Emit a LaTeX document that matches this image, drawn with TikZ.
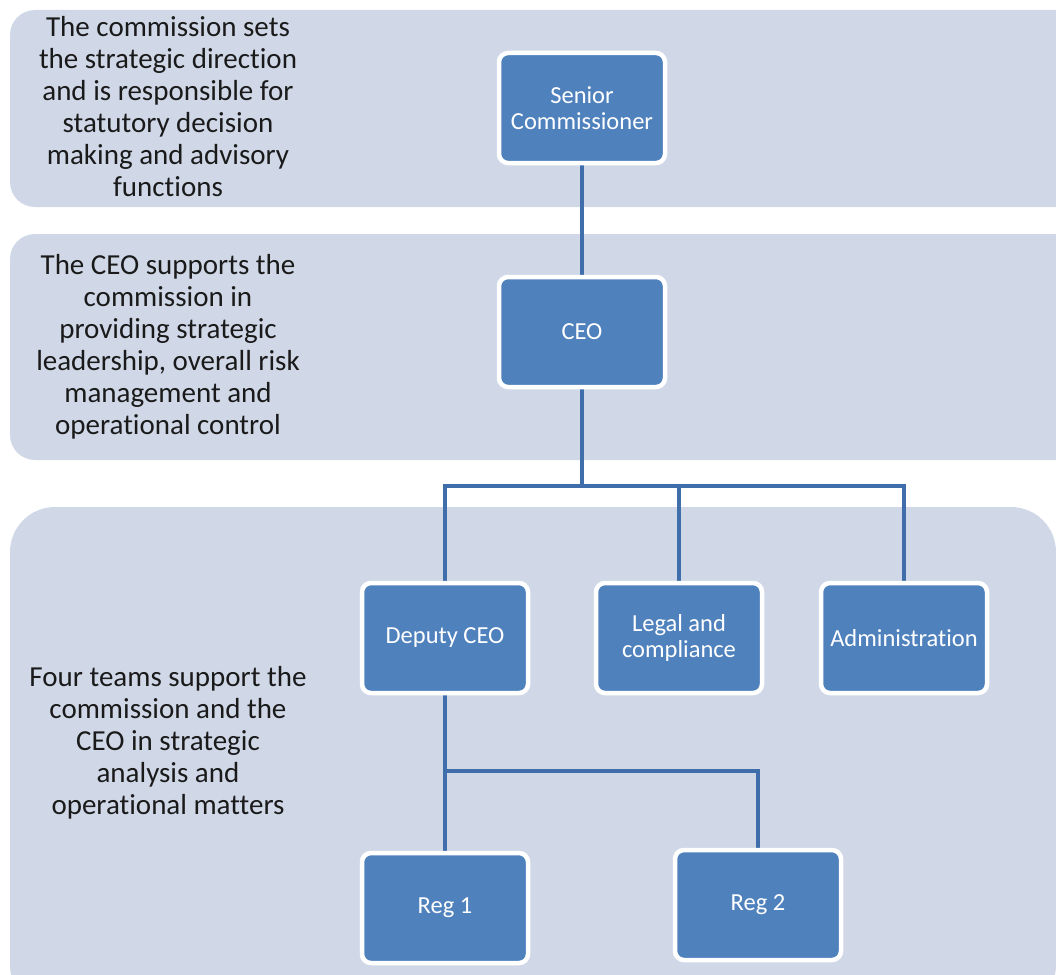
\documentclass[tikz,border=0pt]{standalone}
\usepackage{fontspec}
\setmainfont[Ligatures=NoCommon]{Carlito}
\usetikzlibrary{positioning}
\definecolor{bandgrey}{RGB}{208,216,232}
\definecolor{boxblue}{RGB}{79,129,189}
\definecolor{linkblue}{RGB}{64,110,170}
\definecolor{notegrey}{RGB}{26,26,26}
\tikzstyle{band} = [fill=bandgrey,rounded corners=25]
\tikzstyle{unit} = [rectangle,rounded corners=9,fill=boxblue,draw=white,line width=4.5,minimum width=166,minimum height=110,text=white,align=center,font=\fontsize{24.5}{26}\selectfont]
\tikzstyle{note} = [align=center,text=notegrey,font=\fontsize{29}{32}\selectfont]
\tikzstyle{link} = [linkblue,line width=4.5]
\pgfdeclarelayer{back}
\pgfsetlayers{back,main}

\begin{document}
\begin{tikzpicture}[x=1pt,y=-1pt]
	\begin{scope}
	
	% page size
	\useasboundingbox (0,0) rectangle (1056,974);
	
	% Draw the bands
	\begin{pgfonlayer}{back}
	\fill[band] (10,10) rectangle (1100,207);
	\fill[band] (10,234) rectangle (1100,460);
	\fill[band,rounded corners=45] (10,507) rectangle (1056,1010);
	\end{pgfonlayer}
	
	% Band texts
	\node[note] (topnote) at (168,107) {The commission sets\\the strategic direction\\and is responsible for\\statutory decision\\making and advisory\\functions};
	\node[note] (midnote) at (168,347) {The CEO supports the\\commission in\\providing strategic\\leadership, overall risk\\management and\\operational control};
	\node[note] (lownote) at (168,743) {Four teams support the\\commission and the\\CEO in strategic\\analysis and\\operational matters};
	
	% Units
	\node[unit] (senior) at (582,108) {Senior\\Commissioner};
	\node[unit] (ceo) at (582,332) {CEO};
	\node[unit] (deputy) at (445,638) {Deputy CEO};
	\node[unit] (legal) at (679,638) {Legal and\\compliance};
	\node[unit] (admin) at (904,638) {Administration};
	\node[unit] (regone) at (445,908) {Reg 1};
	\node[unit] (regtwo) at (758,905) {Reg 2};
	
	% Split points
	\coordinate (topsplit) at (582,486);
	\coordinate (lowsplit) at (445,771);
	
	% Connectors
	\begin{pgfonlayer}{back}
	\draw[link] (senior) -- (ceo);
	\draw[link] (ceo) -- (topsplit);
	\draw[link] (deputy.north) |- (topsplit);
	\draw[link] (legal.north) |- (topsplit);
	\draw[link] (admin.north) |- (topsplit);
	\draw[link] (deputy) -- (regone);
	\draw[link] (regtwo.north) |- (lowsplit);
	\end{pgfonlayer}
	
	\end{scope}
\end{tikzpicture}
\end{document}
